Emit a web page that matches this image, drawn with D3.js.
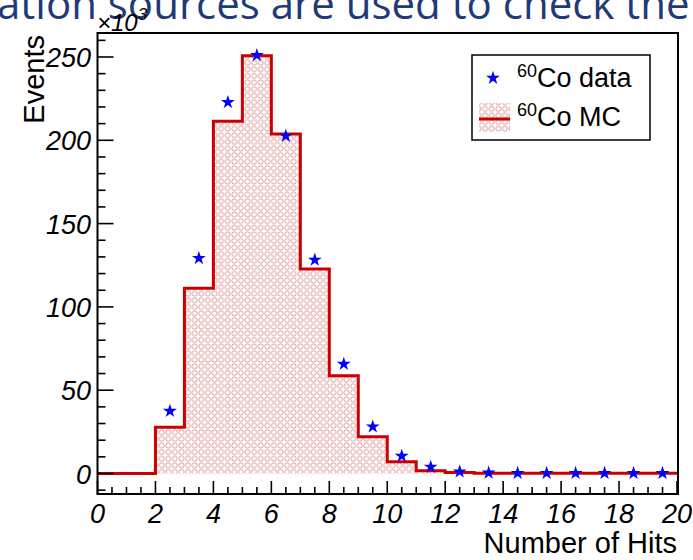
<!DOCTYPE html>
<html><head><meta charset="utf-8">
<script src="https://cdn.jsdelivr.net/npm/d3@7"></script>
<style>body{margin:0;background:#fff}svg{display:block}</style>
</head><body>
<svg id="c" width="693" height="560"></svg>
<script>
const binEdges = [0,1,2,3,4,5,6,7,8,9,10,11,12,13,14,15,16,17,18,19,20];
const mcValues = [0,0,27.7,111.2,211.5,250.8,203.8,122.7,58.7,22.1,7.1,1.7,0.6,0.2,0.15,0.15,0.15,0.15,0.15,0.15];
const dataX = [2.5,3.5,4.5,5.5,6.5,7.5,8.5,9.5,10.5,11.5,12.5,13.5,14.5,15.5,16.5,17.5,18.5,19.5];
const dataValues = [37.5,129.2,222.8,251,202.6,128.2,65.7,28.1,10.5,3.9,1.1,0.4,0.2,0.2,0.2,0.2,0.2,0.2];
const xTicks = [0,2,4,6,8,10,12,14,16,18,20];
const yTicks = [0,50,100,150,200,250];

const svg = d3.select("#c");
const L=97.5, R=678, T=33, B=494;
const x = d3.scaleLinear().domain([0,20]).range([L,677]);
const y = d3.scaleLinear().domain([-12.3,264.4]).range([B,T]);

// slide title fragment
svg.append("text").attr("x",-3).attr("y",19)
  .attr("font-family","Open Sans").attr("font-size",42).attr("fill","#1f3a78")
  .text("ation sources are used to check the");

const defs = svg.append("defs");
const pat = defs.append("pattern").attr("id","circ").attr("patternUnits","userSpaceOnUse")
  .attr("width",6.6).attr("height",6.6);
pat.append("circle").attr("cx",3.3).attr("cy",3.3).attr("r",2.5)
  .attr("fill","none").attr("stroke","#d98c8c").attr("stroke-width",0.9);

// histogram path
const pts = [];
mcValues.forEach((v,i)=>{ pts.push([binEdges[i],v]); pts.push([binEdges[i+1],v]); });
const area = d3.area().x(d=>x(d[0])).y0(y(0)).y1(d=>y(d[1]));
svg.append("path").datum(pts).attr("d",area).attr("fill","url(#circ)");
const line = d3.line().x(d=>x(d[0])).y(d=>y(d[1]));
svg.append("path").datum(pts).attr("d",line).attr("fill","none")
  .attr("stroke","#cc0000").attr("stroke-width",3);

// data stars
const star = d3.symbol().type(d3.symbolStar).size(60);
svg.selectAll(".st").data(dataX).enter().append("path")
  .attr("transform",(d,i)=>`translate(${x(d)},${y(dataValues[i])})`)
  .attr("d",star).attr("fill","#0000ff");

// axes ticks (ROOT style, inside)
const g = svg.append("g").attr("stroke","#000").attr("stroke-width",1.6);
d3.range(0,20.01,0.5).forEach(v=>{
  const major = Math.abs(v/2-Math.round(v/2))<1e-6;
  g.append("line").attr("x1",x(v)).attr("x2",x(v)).attr("y1",B).attr("y2",B-(major?13:7));
});
d3.range(-10,261,10).forEach(v=>{
  const major = v%50===0;
  g.append("line").attr("x1",L).attr("x2",L+(major?16:8)).attr("y1",y(v)).attr("y2",y(v));
});
svg.append("rect").attr("x",L).attr("y",T).attr("width",R-L).attr("height",B-T)
  .attr("fill","none").attr("stroke","#000").attr("stroke-width",2);

const fnt = "Liberation Sans";
svg.selectAll(".xl").data(xTicks).enter().append("text")
  .attr("x",d=>x(d)).attr("y",523).attr("text-anchor","middle")
  .attr("font-family",fnt).attr("font-style","italic").attr("font-size",27).text(d=>d);
svg.selectAll(".yl").data(yTicks).enter().append("text")
  .attr("x",91).attr("y",d=>y(d)+10).attr("text-anchor","end")
  .attr("font-family",fnt).attr("font-style","italic").attr("font-size",27).text(d=>d);

const ex = svg.append("text").attr("x",97).attr("y",31)
  .attr("font-family",fnt).attr("font-style","italic").attr("font-size",24);
ex.append("tspan").text("\u00d710");
ex.append("tspan").attr("dy",-11).attr("font-size",17).text("3");

svg.append("text").attr("x",677).attr("y",553).attr("text-anchor","end")
  .attr("font-family",fnt).attr("font-size",29).text("Number of Hits");
svg.append("text").attr("transform","translate(44,35) rotate(-90)").attr("text-anchor","end")
  .attr("font-family",fnt).attr("font-size",29).text("Events");

// legend
const lg = svg.append("g");
lg.append("rect").attr("x",472).attr("y",55).attr("width",178).attr("height",85)
  .attr("fill","#fff").attr("stroke","#000").attr("stroke-width",1.5);
lg.append("path").attr("transform","translate(493,78)").attr("d",star).attr("fill","#0000ff");
lg.append("rect").attr("x",479).attr("y",103).attr("width",31).attr("height",29).attr("fill","url(#circ)");
lg.append("line").attr("x1",479).attr("x2",510).attr("y1",119).attr("y2",119)
  .attr("stroke","#cc0000").attr("stroke-width",3);
[["Co data",87],["Co MC",126]].forEach(([t,yy])=>{
  const tx = lg.append("text").attr("x",517).attr("y",yy).attr("font-family",fnt).attr("font-size",27);
  tx.append("tspan").attr("font-size",18).attr("dy",-10).text("60");
  tx.append("tspan").attr("dy",10).text(t);
});
</script>
</body></html>
